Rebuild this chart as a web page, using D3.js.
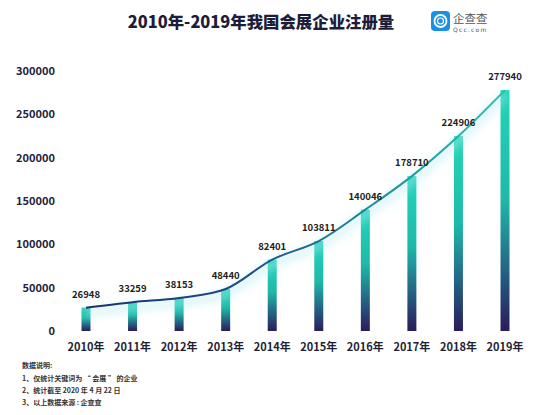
<!DOCTYPE html>
<html><head><meta charset="utf-8">
<script src="https://cdn.jsdelivr.net/npm/d3@7/dist/d3.min.js"></script>
<style>body{margin:0;background:#fff}svg{display:block}</style>
</head><body>
<script>
const years = ["2010年","2011年","2012年","2013年","2014年","2015年","2016年","2017年","2018年","2019年"];
const values = [26948,33259,38153,48440,82401,103811,140046,178710,224906,277940];
const yTicks = [0,50000,100000,150000,200000,250000,300000];
const title = "2010年-2019年我国会展企业注册量";
const notes = ["数据说明:","1、仅统计关键词为 “ 会展 ” 的企业","2、统计截至 2020 年 4 月 22 日","3、以上数据来源 : 企查查"];

const W=553,H=415;
const svg=d3.select("body").append("svg").attr("width",W).attr("height",H);
const defs=svg.append("defs");
const x=d3.scalePoint().domain(years).range([86,505]);
const y=d3.scaleLinear().domain([0,300000]).range([331,71]);
const font="'Noto Sans CJK SC','Noto Sans',sans-serif";

const bg=defs.append("linearGradient").attr("id","barG").attr("x1",0).attr("y1",0).attr("x2",0).attr("y2",1);
[[0,"#22d6b9"],[0.45,"#1fb9a9"],[0.78,"#245a80"],[1,"#2b1c5a"]].forEach(s=>bg.append("stop").attr("offset",s[0]).attr("stop-color",s[1]));
const lg=defs.append("linearGradient").attr("id","lineG").attr("gradientUnits","userSpaceOnUse").attr("x1",86).attr("x2",505).attr("y1",0).attr("y2",0);
[[0,"#1c2f6e"],[0.4,"#1d4f86"],[0.7,"#1f8f9c"],[1,"#22c4ae"]].forEach(s=>lg.append("stop").attr("offset",s[0]).attr("stop-color",s[1]));
const blur=defs.append("filter").attr("id","glow").attr("x","-10%").attr("y","-50%").attr("width","120%").attr("height","200%");
blur.append("feGaussianBlur").attr("stdDeviation",4);

// title
svg.append("text").attr("x",261).attr("y",28).attr("text-anchor","middle").attr("font-family",font).attr("font-weight",900).attr("font-size",16.4).attr("fill","#1d1d3a").text(title);

// logo
const logo=svg.append("g");
logo.append("rect").attr("x",431).attr("y",11).attr("width",19).attr("height",20).attr("rx",4).attr("fill","#1a8fe6");
logo.append("circle").attr("cx",440.5).attr("cy",21).attr("r",6).attr("fill","none").attr("stroke","#fff").attr("stroke-width",1.8);
logo.append("circle").attr("cx",440.5).attr("cy",21).attr("r",3).attr("fill","none").attr("stroke","#fff").attr("stroke-width",1.2);
logo.append("text").attr("x",453).attr("y",23).attr("font-family",font).attr("font-size",11.5).attr("fill","#555").text("企查查");
logo.append("text").attr("x",453).attr("y",32).attr("font-family","'DejaVu Sans',sans-serif").attr("font-size",6).attr("letter-spacing",1.2).attr("fill","#555").text("Qcc.com");

// y axis labels
svg.append("g").selectAll("text").data(yTicks).join("text")
 .attr("x",55).attr("y",d=>y(d)+4).attr("text-anchor","end")
 .attr("font-family",font).attr("font-weight",700).attr("font-size",11).attr("fill","#23233a").text(d=>d);

// bars
const bw=9;
svg.append("g").selectAll("rect").data(values).join("rect")
 .attr("x",(d,i)=>x(years[i])-bw/2).attr("y",d=>y(d)).attr("width",bw).attr("height",d=>y(0)-y(d)).attr("fill","url(#barG)");

// line
const line=d3.line().x((d,i)=>x(years[i])).y(d=>y(d)).curve(d3.curveCatmullRom.alpha(0.5));
svg.append("path").attr("d",line(values)).attr("fill","none").attr("stroke","#b5ecf4").attr("stroke-opacity",0.5).attr("stroke-width",8).attr("transform","translate(0,5)").attr("filter","url(#glow)");
svg.append("path").attr("d",line(values)).attr("fill","none").attr("stroke","url(#lineG)").attr("stroke-width",2);

// value labels
svg.append("g").selectAll("text").data(values).join("text")
 .attr("x",(d,i)=>x(years[i])).attr("y",d=>y(d)-10).attr("text-anchor","middle")
 .attr("font-family",font).attr("font-weight",700).attr("font-size",9.5).attr("fill","#222").text(d=>d);

// x labels
svg.append("g").selectAll("text").data(years).join("text")
 .attr("x",d=>x(d)).attr("y",351).attr("text-anchor","middle")
 .attr("font-family",font).attr("font-weight",700).attr("font-size",11).attr("fill","#1f1f33").text(d=>d);

// notes
svg.append("g").selectAll("text").data(notes).join("text")
 .attr("x",22).attr("y",(d,i)=>[368,381,393,405][i])
 .attr("font-family",font).attr("font-weight",700).attr("font-size",7).attr("fill","#333").text(d=>d);
</script>
</body></html>
